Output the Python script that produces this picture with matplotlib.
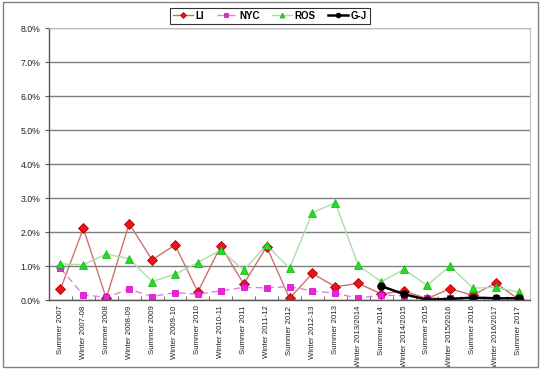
import matplotlib
matplotlib.use("Agg")
import matplotlib.pyplot as plt
import matplotlib.patches as patches
from matplotlib.ticker import FuncFormatter, MultipleLocator

plt.rcParams["font.family"] = ["Liberation Sans", "DejaVu Sans"]

seasons = [
    "Summer 2007", "Winter 2007-08", "Summer 2008", "Winter 2008-09",
    "Summer 2009", "Winter 2009-10", "Summer 2010", "Winter 2010-11",
    "Summer 2011", "Winter 2011-12", "Summer 2012", "Winter 2012-13",
    "Summer 2013", "Winter 2013/2014", "Summer 2014", "Winter 2014/2015",
    "Summer 2015", "Winter 2015/2016", "Summer 2016", "Winter 2016/2017",
    "Summer 2017",
]

# percent values
li  = [0.31, 2.11, 0.05, 2.25, 1.18, 1.62, 0.24, 1.59, 0.47, 1.57, 0.05,
       0.78, 0.39, 0.49, 0.18, 0.27, 0.04, 0.33, 0.14, 0.50, 0.02]
nyc = [0.93, 0.15, 0.08, 0.32, 0.10, 0.22, 0.17, 0.27, 0.37, 0.36, 0.39,
       0.27, 0.20, 0.05, 0.15, 0.12, 0.06, 0.06, 0.07, 0.06, 0.05]
ros = [1.06, 1.04, 1.35, 1.22, 0.54, 0.76, 1.10, 1.47, 0.88, 1.62, 0.93,
       2.57, 2.86, 1.02, 0.54, 0.90, 0.43, 1.00, 0.35, 0.37, 0.23]
gj_start = 14
gj  = [0.41, 0.17, 0.01, 0.03, 0.07, 0.05, 0.05]

fig = plt.figure(figsize=(5.43, 3.73), dpi=100, facecolor="white")
ax = fig.add_axes([0.0902, 0.1957, 0.886, 0.729])

x = list(range(len(seasons)))
ax.plot(x, li, color="#d07070", lw=1.0, marker="D", ms=5,
        mfc="#e8141c", mec="#b00000", mew=0.6, label="LI")
ax.plot(x, nyc, color="#e080e0", lw=1.0, ls=(0, (5, 3)), marker="s", ms=4.2,
        mfc="#f020e0", mec="#d000c0", mew=0.5, label="NYC")
ax.plot(x, ros, color="#a8e0a8", lw=1.0, marker="^", ms=6,
        mfc="#22dd22", mec="#10b010", mew=0.5, label="ROS")
ax.plot(x[gj_start:], gj, color="black", lw=1.8, marker="o", ms=5,
        mfc="black", mec="black", label="G-J")

ax.set_xlim(-0.5, len(seasons) - 0.5)
ax.set_ylim(0, 8)
ax.yaxis.set_major_locator(MultipleLocator(1))
ax.yaxis.set_major_formatter(FuncFormatter(lambda v, p: f"{v:.1f}%"))
ax.grid(axis="y", color="#7f7f7f", lw=1.0)
ax.set_axisbelow(True)

ax.set_xticks(x)
ax.set_xticklabels(seasons, rotation=90, fontsize=5.6, color="#202020")
ax.set_xticks([i - 0.5 for i in range(len(seasons) + 1)], minor=True)
ax.tick_params(axis="x", which="major", length=0, pad=4)
ax.tick_params(axis="x", which="minor", length=3, direction="in", color="#555555")
ax.tick_params(axis="y", labelsize=6.3, labelcolor="#202020", length=3,
               direction="out", color="#555555", pad=3)

for side in ["left", "bottom"]:
    ax.spines[side].set_color("#555555")
    ax.spines[side].set_linewidth(1.0)
ax.spines["top"].set_color("#c0c0c0")
ax.spines["right"].set_color("#c0c0c0")

leg = fig.legend(loc="center", bbox_to_anchor=(0.497, 0.958), ncol=4,
                 fontsize=7, frameon=True, fancybox=False, handlelength=2.0,
                 columnspacing=1.3, handletextpad=0.3, borderpad=0.3,
                 markerscale=0.6)
leg.get_frame().set_edgecolor("black")
leg.get_frame().set_linewidth(0.8)
for t in leg.get_texts():
    t.set_fontweight("bold")

border = patches.Rectangle((0.006, 0.016), 0.984, 0.978, transform=fig.transFigure,
                           fill=False, edgecolor="#808080", lw=1.0)
fig.patches.append(border)

fig.savefig("out.png", dpi=100, facecolor="white")
